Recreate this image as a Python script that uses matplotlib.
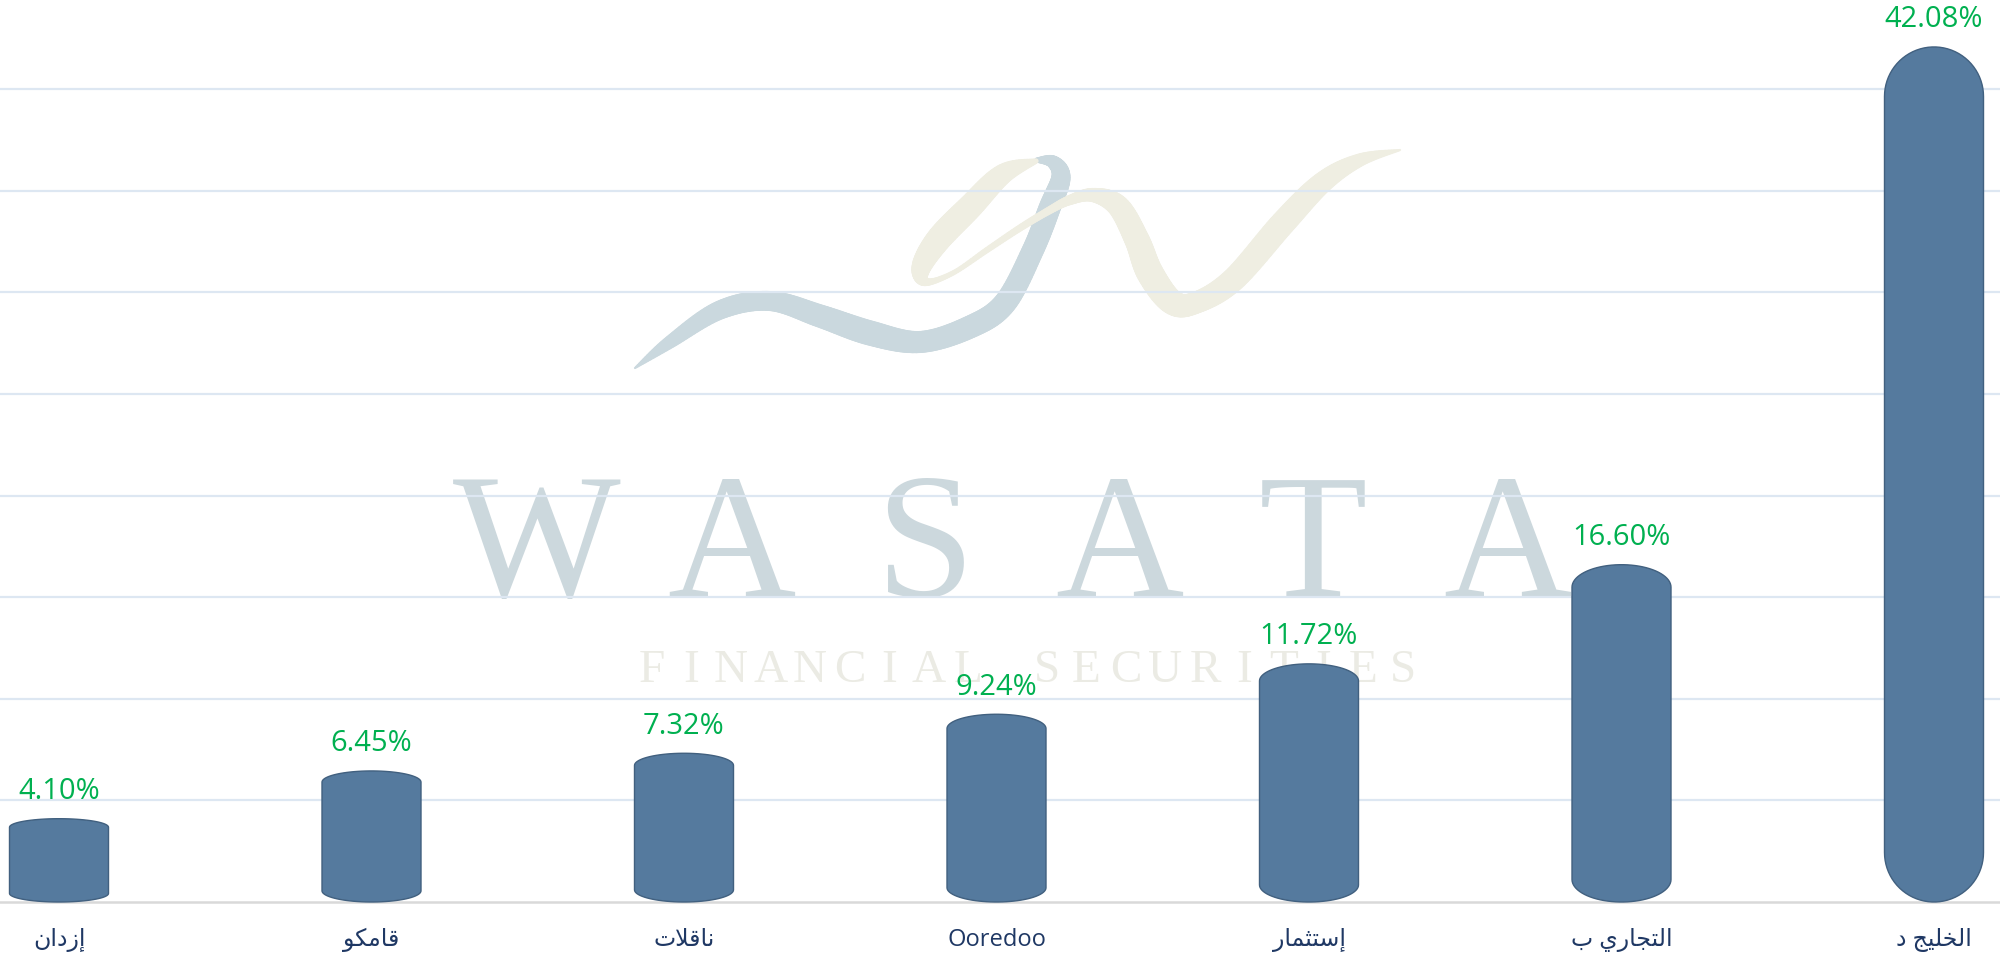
import numpy as np
import matplotlib
matplotlib.use('Agg')
import matplotlib.pyplot as plt
from matplotlib.path import Path
from matplotlib.patches import PathPatch
from matplotlib.collections import LineCollection

# data
categories = ['إزدان', 'قامكو', 'ناقلات', 'Ooredoo', 'إستثمار', 'التجاري ب', 'الخليج د']
values = [4.10, 6.45, 7.32, 9.24, 11.72, 16.60, 42.08]
value_labels = [f'{v:.2f}%' for v in values]
grid_levels = [5, 10, 15, 20, 25, 30, 35, 40]

# minimal Arabic shaping (matplotlib has no shaping / bidi)
FORMS = {
    'ا': ('\uFE8D', '\uFE8E', None, None), 'إ': ('\uFE87', '\uFE88', None, None),
    'د': ('\uFEA9', '\uFEAA', None, None), 'ر': ('\uFEAD', '\uFEAE', None, None),
    'ز': ('\uFEAF', '\uFEB0', None, None), 'و': ('\uFEED', '\uFEEE', None, None),
    'ب': ('\uFE8F', '\uFE90', '\uFE91', '\uFE92'), 'ت': ('\uFE95', '\uFE96', '\uFE97', '\uFE98'),
    'ث': ('\uFE99', '\uFE9A', '\uFE9B', '\uFE9C'), 'ج': ('\uFE9D', '\uFE9E', '\uFE9F', '\uFEA0'),
    'خ': ('\uFEA5', '\uFEA6', '\uFEA7', '\uFEA8'), 'س': ('\uFEB1', '\uFEB2', '\uFEB3', '\uFEB4'),
    'ق': ('\uFED5', '\uFED6', '\uFED7', '\uFED8'), 'ك': ('\uFED9', '\uFEDA', '\uFEDB', '\uFEDC'),
    'ل': ('\uFEDD', '\uFEDE', '\uFEDF', '\uFEE0'), 'م': ('\uFEE1', '\uFEE2', '\uFEE3', '\uFEE4'),
    'ن': ('\uFEE5', '\uFEE6', '\uFEE7', '\uFEE8'), 'ي': ('\uFEF1', '\uFEF2', '\uFEF3', '\uFEF4'),
}
LAM_ALEF = {'ا': ('\uFEFB', '\uFEFC'), 'إ': ('\uFEF9', '\uFEFA')}


def shape(text):
    if not any(c in FORMS for c in text):
        return text
    out = []
    i, n = 0, len(text)
    while i < n:
        ch = text[i]
        if ch not in FORMS:
            out.append(ch)
            i += 1
            continue
        prev = text[i - 1] if i > 0 else None
        joins_prev = prev in FORMS and FORMS[prev][2] is not None
        if ch == 'ل' and i + 1 < n and text[i + 1] in LAM_ALEF:
            out.append(LAM_ALEF[text[i + 1]][1 if joins_prev else 0])
            i += 2
            continue
        nxt = text[i + 1] if i + 1 < n else None
        joins_next = FORMS[ch][2] is not None and nxt in FORMS
        iso, fin, ini, med = FORMS[ch]
        if joins_prev and joins_next:
            out.append(med)
        elif joins_prev:
            out.append(fin)
        elif joins_next:
            out.append(ini)
        else:
            out.append(iso)
        i += 1
    return ''.join(reversed(out))


def smooth(pts, k=14):
    # catmull-rom through the logo control points (decoration only)
    p = np.asarray(pts, float)
    p = np.vstack([p[0], p, p[-1]])
    res = []
    for j in range(1, len(p) - 2):
        p0, p1, p2, p3 = p[j - 1], p[j], p[j + 1], p[j + 2]
        for t in np.linspace(0, 1, k, endpoint=False):
            t2, t3 = t * t, t * t * t
            res.append(0.5 * ((2 * p1) + (-p0 + p2) * t + (2 * p0 - 5 * p1 + 4 * p2 - p3) * t2
                              + (-p0 + 3 * p1 - 3 * p2 + p3) * t3))
    res.append(p[-2])
    return np.array(res)


def ribbon(ax, pts, color):
    s = smooth(pts)
    xy = s[:, :2]
    w = s[:, 2]
    segs = np.stack([xy[:-1], xy[1:]], axis=1)
    lw = 0.5 * (w[:-1] + w[1:]) * 0.72
    ax.add_collection(LineCollection(segs, linewidths=lw, colors=color, capstyle='round'))


fig = plt.figure(figsize=(20, 9.6), dpi=100, facecolor='white')

# watermark layer, pixel coordinates
bg = fig.add_axes([0, 0, 1, 1], zorder=0)
bg.set_xlim(0, 2000)
bg.set_ylim(960, 0)
bg.axis('off')

blue_pts = [(635, 368, 2), (670, 342, 13), (720, 310, 19), (770, 301, 20), (820, 316, 23),
            (870, 333, 25), (920, 342, 22), (970, 327, 23), (1005, 303, 23), (1033, 250, 22),
            (1050, 207, 22), (1061, 177, 19), (1053, 162, 13), (1037, 160, 5)]
beige_pts = [(1036, 161, 5), (1003, 174, 20), (970, 207, 25), (938, 240, 25), (921, 268, 19),
             (926, 282, 8), (953, 273, 5), (987, 250, 6), (1020, 228, 7), (1050, 210, 8),
             (1070, 200, 10), (1093, 195, 14), (1118, 206, 22), (1137, 240, 25), (1150, 273, 27),
             (1172, 302, 25), (1195, 303, 22), (1233, 280, 24), (1283, 223, 25), (1323, 182, 21),
             (1360, 160, 13), (1400, 150, 2)]
ribbon(bg, blue_pts, '#cad8de')
ribbon(bg, beige_pts, '#efeee2')

for i, ch in enumerate('WASATA'):
    bg.text(537 + i * 194, 596, ch, ha='center', va='baseline', fontsize=128,
            family='Liberation Serif', color='#ccd8dd')
for i, ch in enumerate('FINANCIAL SECURITIES'):
    bg.text(652 + i * 39.5, 682, ch, ha='center', va='baseline', fontsize=34,
            family='Liberation Serif', color='#ebebe4')

# chart layer
PX_PER_UNIT = 20.32
BASE_PX = 902
SLOT_PX = 312.5
FIRST_PX = 59

ax = fig.add_axes([0, 0, 1, 1], zorder=1)
ax.patch.set_alpha(0)
ax.set_ylim(-(960 - BASE_PX) / PX_PER_UNIT, BASE_PX / PX_PER_UNIT)
ax.set_xlim(-FIRST_PX / SLOT_PX, (2000 - FIRST_PX) / SLOT_PX)
for s in ax.spines.values():
    s.set_visible(False)
ax.set_xticks([])
ax.set_yticks([])

for g in grid_levels:
    ax.axhline(g, color='#dde7f2', lw=1.6, zorder=1)
ax.axhline(0, color='#d9d9d9', lw=1.8, zorder=1)

x = np.arange(len(values))
hw = 0.5 * 99 / SLOT_PX
for xc, v, lab, cat in zip(x, values, value_labels, categories):
    h_px = v * PX_PER_UNIT
    c = min(49.5, 4 + 0.055 * h_px) / PX_PER_UNIT
    t_top = np.linspace(np.pi, 0, 40)
    t_bot = np.linspace(0, -np.pi, 40)
    verts = [(xc - hw, c), (xc - hw, v - c)]
    verts += list(zip(xc + hw * np.cos(t_top), (v - c) + c * np.sin(t_top)))
    verts += [(xc + hw, c)]
    verts += list(zip(xc + hw * np.cos(t_bot), c + c * np.sin(t_bot)))
    verts += [(xc - hw, c)]
    codes = [Path.MOVETO] + [Path.LINETO] * (len(verts) - 2) + [Path.CLOSEPOLY]
    ax.add_patch(PathPatch(Path(verts, codes), facecolor='#557a9e', edgecolor='#41607f',
                           lw=1.0, zorder=3))
    ax.annotate(lab, (xc, v), xytext=(0, 14), textcoords='offset points', ha='center',
                va='baseline', color='#00b050', fontsize=21, family='Open Sans', zorder=4)
    ax.annotate(shape(cat), (xc, 0), xytext=(0, -32), textcoords='offset points', ha='center',
                va='baseline', color='#1f3864', fontsize=17,
                family=['Open Sans', 'DejaVu Sans'], zorder=4)

fig.savefig('out.png', dpi=100, facecolor='white')
